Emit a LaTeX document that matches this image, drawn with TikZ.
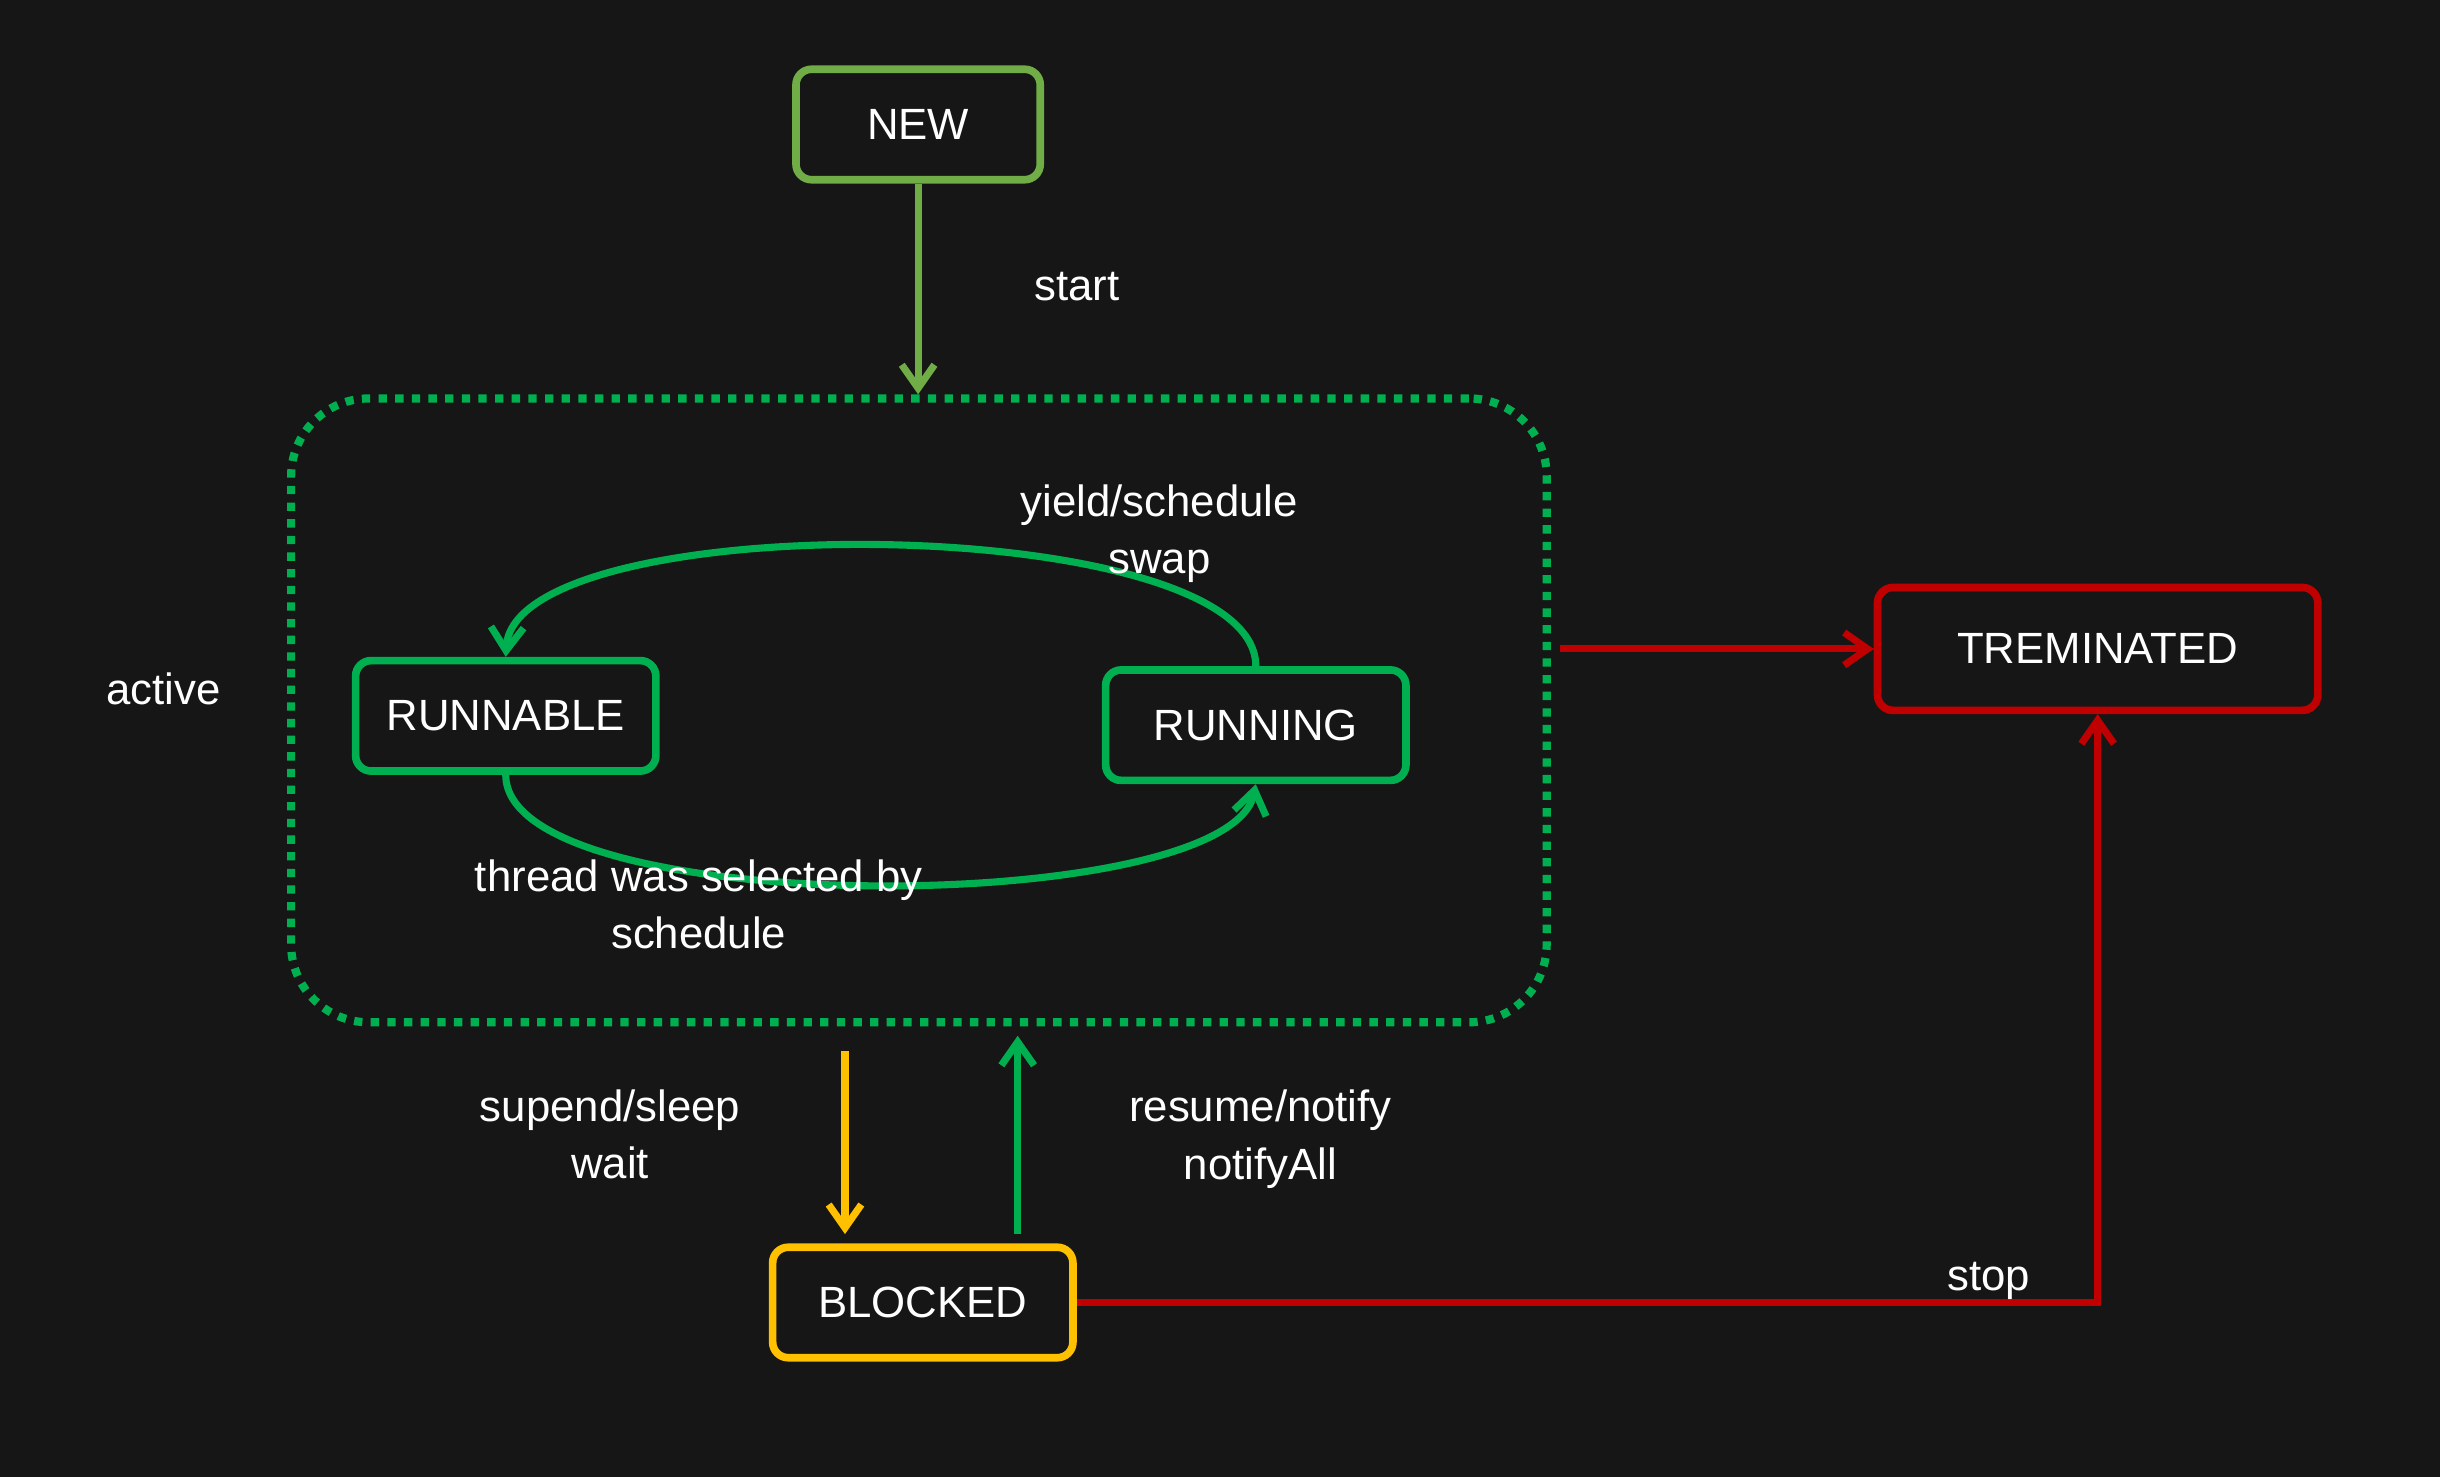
\documentclass[tikz,border=0pt]{standalone}
\usepackage{fontspec}
\setmainfont{Liberation Sans}
\usetikzlibrary{arrows.meta, positioning, calc, backgrounds}

\definecolor{bgdark}{HTML}{161616}
\definecolor{newgreen}{HTML}{70AD47}
\definecolor{stategreen}{HTML}{00B050}
\definecolor{stopred}{HTML}{C00000}
\definecolor{waityellow}{HTML}{FFC000}

\begin{document}
\begin{tikzpicture}[
        x=0.02cm, y=-0.02cm,
        state/.style={rectangle, draw, line width=2.8pt, rounded corners=0.2cm,
          minimum width=3.86cm, minimum height=1.42cm, text=white,
          font=\fontsize{16}{21}\selectfont},
        lbl/.style={text=white, align=center, font=\fontsize{16}{21}\selectfont},
        link/.style={line width=2.6pt, -{Straight Barb[length=0.3cm, width=0.42cm, line width=2.6pt]}},
        >=Stealth
      ]

      % Background
      \fill[bgdark] (0,0) rectangle (1568,949);

      % States
      \node[state, draw=newgreen, minimum width=3.14cm] (new) at (590,80) {NEW};
      \node[state, draw=stategreen] (runnable) at (325,460) {RUNNABLE};
      \node[state, draw=stategreen] (running) at (807,466) {RUNNING};
      \node[state, draw=stopred, minimum width=5.66cm, minimum height=1.58cm] (trem) at (1348,417) {TREMINATED};
      \node[state, draw=waityellow] (blocked) at (593,837) {BLOCKED};

      % Active region
      \node[draw=stategreen, line width=3pt, rounded corners=1cm,
        dash pattern=on 0.107cm off 0.107cm,
        minimum width=16.14cm, minimum height=8.02cm] (activebox) at (590.5,456.5) {};
      \node[lbl] (activelbl) at (105,443) {active};

      % Connections
      \draw[link, newgreen] (new) -- (new |- activebox.north);
      \draw[link, stategreen] (running.north) .. controls (807,328) and (330,324) .. (runnable.north);
      \draw[link, stategreen] (runnable.south) .. controls (325,592) and (790,590) .. (running.south);
      \draw[link, stopred, shorten <=0.12cm] (activebox.east |- trem.west) -- (trem.west);
      \draw[link, waityellow, shorten <=0.32cm, shorten >=0.12cm]
        ([xshift=-1cm]blocked.north |- activebox.south) -- ([xshift=-1cm]blocked.north);
      \draw[link, stategreen, shorten <=0.12cm, shorten >=0.12cm]
        ([xshift=1.22cm]blocked.north) -- ([xshift=1.22cm]blocked.north |- activebox.south);
      \draw[link, stopred, rounded corners=0pt] (blocked.east) -- (blocked.east -| trem.south) -- (trem.south);

      % Labels
      \node[lbl] (startlbl) at (692,184) {start};
      \node[lbl] (yieldlbl) at (745,343) {yield/schedule\\swap};
      \node[lbl] (selectlbl) at (449,581) {thread was selected by\\schedule};
      \node[lbl] (sleeplbl) at (392,729) {supend/sleep\\wait};
      \node[lbl] (resumelbl) at (810,732) {resume/notify\\notifyAll};
      \node[lbl] (stoplbl) at (1278,823) {stop};

      \end{tikzpicture}
\end{document}
